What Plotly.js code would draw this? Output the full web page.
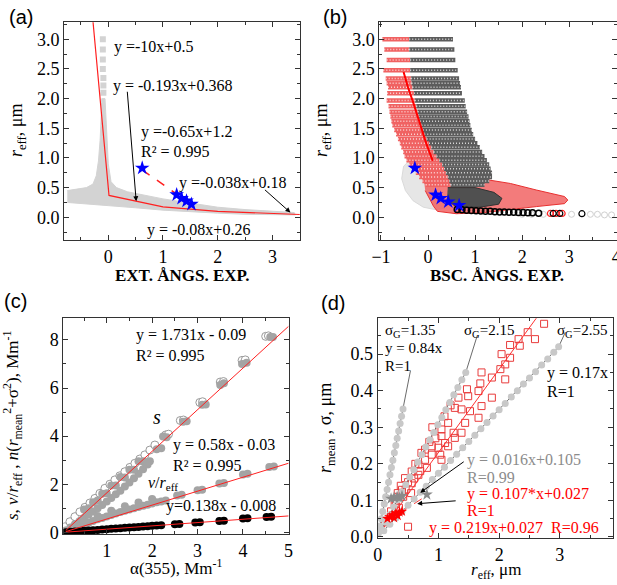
<!DOCTYPE html>
<html>
<head>
<meta charset="utf-8">
<script src="https://cdn.plot.ly/plotly-3.0.1.min.js"></script>
<style>html,body{margin:0;padding:0;background:#fff}#chart{width:617px;height:585px}</style>
</head>
<body>
<div id="chart"></div>
<script>
// ---------- Panel (a) data ----------
const aCloudX = [-0.75,-0.6,-0.4,-0.28,-0.22,-0.18,-0.15,-0.13,-0.12,-0.06,-0.04,-0.02,0.0,0.05,0.15,0.35,0.6,1.0,1.5,2.0,2.5,3.0,3.4,3.42,3.0,2.5,2.0,1.5,1.0,0.5,0.0,-0.4,-0.75];
const aCloudY = [0.45,0.47,0.5,0.56,0.7,0.95,1.3,1.7,2.0,2.0,1.7,1.2,0.9,0.6,0.5,0.43,0.38,0.31,0.24,0.17,0.13,0.1,0.08,0.04,0.04,0.05,0.07,0.09,0.12,0.16,0.2,0.22,0.25];
const aColX = [-0.1,-0.1,-0.1,-0.1,-0.09,-0.09,-0.09];
const aColY = [3.0,2.83,2.66,2.5,2.35,2.22,2.1];
const aFitX = [-0.28,0.013,1,2,3.5];
const aFitY = [3.3,0.368,0.175,0.10,0.047];
const aStarX = [0.62,1.25,1.34,1.43,1.52];
const aStarY = [0.83,0.38,0.32,0.275,0.22];
const aDashX = [0.62,1.22];
const aDashY = [0.80,0.41];

// ---------- Panel (b) data ----------
const bRowY   = [3.0,2.83,2.65,2.48,2.34,2.26,2.19,2.09,1.97,1.87,1.78,1.70,1.62,1.55,1.47,1.40,1.32,1.25,1.18,1.10,1.03,0.96,0.89,0.82,0.75,0.68,0.61,0.55];
const bRowX0  = [-0.97,-0.93,-0.88,-0.95,-0.9,-0.88,-0.85,-0.87,-0.88,-0.84,-0.82,-0.8,-0.78,-0.76,-0.72,-0.68,-0.64,-0.6,-0.57,-0.53,-0.5,-0.46,-0.4,-0.34,-0.26,-0.19,-0.12,-0.05];
const bRowSplit = [-0.4,-0.4,-0.38,-0.38,-0.36,-0.35,-0.33,-0.3,-0.28,-0.25,-0.22,-0.2,-0.17,-0.14,-0.11,-0.08,-0.03,0.02,0.07,0.12,0.18,0.24,0.3,0.34,0.38,0.42,0.45,0.48];
const bRowX1  = [0.53,0.56,0.58,0.63,0.66,0.68,0.7,0.72,0.78,0.8,0.83,0.86,0.88,0.9,0.93,0.96,1.0,1.05,1.1,1.15,1.2,1.25,1.3,1.33,1.36,1.36,1.3,1.2];
const bGrayX = [-0.38,-0.52,-0.56,-0.48,-0.32,-0.1,0.15,0.35,0.3,0.12,-0.05,-0.22];
const bGrayY = [0.97,0.86,0.65,0.45,0.28,0.17,0.13,0.15,0.3,0.5,0.7,0.92];
const bRedLowX = [-0.08,0.5,1.2,1.75,2.3,2.9,2.97,2.9,2.3,1.8,1.2,0.6,0.2,0.12,0.02,-0.06];
const bRedLowY = [0.58,0.6,0.64,0.57,0.46,0.35,0.29,0.23,0.18,0.13,0.08,0.06,0.1,0.18,0.32,0.45];
const bBlackBandX = [0.42,1.0,1.4,1.57,1.5,1.1,0.6,0.4];
const bBlackBandY = [0.5,0.5,0.42,0.32,0.22,0.17,0.17,0.3];
const bStreakX = [-0.52,-0.43,-0.3,-0.18,-0.04,0.1];
const bStreakY = [2.45,2.2,1.9,1.6,1.25,0.95];
const bBottomX = [0.62,0.72,0.82,0.92,1.02,1.12,1.22,1.32,1.42,1.52,1.62,1.72,1.82,1.92,2.02,2.12,2.22,2.35];
const bBottomY = [0.13,0.125,0.12,0.115,0.11,0.105,0.1,0.1,0.095,0.09,0.09,0.085,0.085,0.08,0.08,0.075,0.075,0.07];
const bTailRedX = [2.6,2.72,2.85];
const bTailRedY = [0.065,0.065,0.065];
const bTailBlackX = [2.66,2.8,3.27];
const bTailBlackY = [0.065,0.065,0.06];
const bTailGrayX = [2.0,2.2,2.45,3.05,3.45,3.6,3.75,3.9];
const bTailGrayY = [0.05,0.05,0.05,0.05,0.05,0.05,0.04,0.04];
const bStarX = [-0.28,0.16,0.27,0.43,0.66];
const bStarY = [0.83,0.376,0.32,0.26,0.2];

// ---------- Panel (c) data ----------
const cSOpenX = [0.08,0.19,0.3,0.41,0.52,0.63,0.74,0.85,0.96,1.07,1.18,1.29,1.4,1.51,1.62,1.73,1.84,1.95,2.06,2.3,2.36,2.62,2.69,3.05,3.11,3.5,3.57,3.98,4.05,4.5,4.56];
const cSOpenY = [0.23,0.44,0.65,0.85,1.04,1.22,1.41,1.62,1.83,2.0,2.18,2.35,2.52,2.7,2.87,3.05,3.22,3.42,3.63,4.05,4.08,4.65,4.67,5.4,5.43,6.25,6.27,7.15,7.17,8.15,8.17];
const cSGrayX = [0.1,0.2,0.3,0.4,0.5,0.6,0.7,0.8,0.9,1.0,1.1,1.2,1.3,1.4,1.5,1.6,1.7,1.8,1.9,0.5,0.7,0.9,1.1,1.3,1.5,1.7,0.6,0.8,1.0,1.2,1.4,1.6,1.8,1.85,1.95,2.1,2.2,2.24,2.32,2.68,2.76,3.1,3.18,3.5,3.58,3.98,4.08,4.6,4.66];
const cSGrayY = [0.08,0.2,0.33,0.46,0.6,0.73,0.87,1.0,1.14,1.28,1.43,1.58,1.73,1.9,2.07,2.25,2.43,2.62,2.82,0.95,1.25,1.6,1.95,2.3,2.6,2.95,1.0,1.32,1.62,1.95,2.28,2.6,2.95,2.88,2.95,3.45,3.5,3.98,3.95,4.6,4.62,5.3,5.32,6.13,6.2,7.0,7.05,8.12,8.12];
const cVX = [0.1,0.2,0.3,0.4,0.5,0.6,0.7,0.8,0.9,1.0,1.1,1.2,1.3,1.4,1.5,1.6,1.7,1.8,1.9,2.0,2.1,2.2,2.3,0.5,0.8,1.1,1.4,1.7,2.0,2.55,2.65,3.0,3.1,3.48,3.58,4.0,4.1,4.58,4.68];
const cVY = [0.06,0.13,0.2,0.26,0.33,0.4,0.47,0.54,0.6,0.66,0.72,0.78,0.84,0.9,0.95,1.0,1.05,1.1,1.15,1.2,1.25,1.28,1.32,0.42,0.68,0.9,1.08,1.24,1.38,1.53,1.56,1.75,1.77,2.03,2.05,2.4,2.43,2.72,2.74];
const cNX = [0.1,0.2,0.3,0.4,0.5,0.6,0.7,0.8,0.9,1.0,1.1,1.2,1.3,1.4,1.5,1.6,1.7,1.8,1.9,2.0,2.1,2.2,2.5,2.6,2.95,3.05,3.48,3.58,4.0,4.1,4.52,4.62];
const cNY = [0.006,0.02,0.03,0.047,0.06,0.075,0.09,0.1,0.115,0.13,0.143,0.157,0.17,0.185,0.2,0.21,0.225,0.24,0.25,0.27,0.28,0.29,0.34,0.35,0.41,0.42,0.47,0.48,0.57,0.58,0.64,0.65];
const cFitX = [0.1,5.0];
const cFitS = [0.08,8.56];
const cFitV = [0.03,2.87];
const cFitN = [0.006,0.68];

// ---------- Panel (d) data ----------
const dG135X = [0.012,0.036,0.06,0.083,0.107,0.131,0.155,0.179,0.202,0.226,0.25,0.274,0.298,0.321,0.345,0.369,0.393,0.417];
const dG135Y = [0.01,0.03,0.05,0.07,0.09,0.11,0.13,0.15,0.17,0.19,0.21,0.23,0.25,0.27,0.29,0.31,0.33,0.35];
const dG215X = [0.066,0.132,0.198,0.264,0.33,0.396,0.462,0.528,0.594,0.66,0.726,0.792,0.858,0.924,0.99,1.056,1.122,1.188,1.254,1.32,1.386,1.45];
const dG215Y = [0.02,0.041,0.061,0.082,0.102,0.123,0.143,0.164,0.184,0.205,0.225,0.246,0.266,0.286,0.307,0.327,0.348,0.368,0.389,0.409,0.43,0.45];
const dG255X = [0.1,0.2,0.3,0.4,0.5,0.6,0.7,0.8,0.9,1.0,1.1,1.2,1.3,1.4,1.5,1.6,1.7,1.8,1.9,2.0,2.1,2.2,2.3,2.4,2.5,2.6,2.7,2.8,2.9,2.98];
const dG255Y = [0.017,0.035,0.052,0.07,0.087,0.104,0.122,0.139,0.157,0.174,0.191,0.209,0.226,0.244,0.261,0.278,0.296,0.313,0.331,0.348,0.365,0.383,0.4,0.418,0.435,0.452,0.47,0.487,0.505,0.52];
const dLead135X = [0,0.417,0.54];
const dLead135Y = [0,0.35,0.455];
const dLead215X = [0,1.45,1.64];
const dLead215Y = [0,0.45,0.551];
const dLead255X = [0,2.98,3.09];
const dLead255Y = [0,0.52,0.56];
const dSqX = [2.74,2.47,2.32,2.59,2.18,2.34,2.04,2.18,2.1,2.02,1.71,1.88,2.1,1.69,1.47,1.66,1.49,1.33,1.88,1.71,1.27,1.38,1.52,1.66,1.44,1.16,1.05,1.25,1.38,1.05,1.27,1.11,0.89,1.0,1.16,0.78,0.89,1.03,1.05,0.78,0.67,0.81,0.56,0.67,0.45,0.56,0.4,0.34,0.28,0.5,0.12,0.18,0.22,0.26,0.3,0.35,0.33,0.38,0.42,0.46,0.5,0.55,0.6,0.62,0.7,0.72,0.85,0.9,0.95,1.1,1.2];
const dSqY = [0.583,0.56,0.541,0.541,0.525,0.523,0.5,0.49,0.472,0.459,0.45,0.436,0.431,0.42,0.404,0.399,0.385,0.381,0.381,0.358,0.353,0.349,0.344,0.326,0.312,0.312,0.294,0.285,0.285,0.276,0.271,0.257,0.248,0.244,0.248,0.239,0.225,0.225,0.211,0.211,0.198,0.189,0.179,0.17,0.161,0.147,0.129,0.11,0.092,0.028,0.04,0.05,0.07,0.06,0.09,0.08,0.12,0.14,0.11,0.13,0.15,0.12,0.16,0.2,0.18,0.23,0.26,0.3,0.27,0.33,0.36];
const dRedFitX = [0.03,2.65];
const dRedFitY = [0.01,0.607];
const dRedDashX = [0.1,0.75];
const dRedDashY = [0.038,0.107];
const dRedStarX = [0.16,0.2,0.24,0.27,0.3,0.33,0.36,0.4];
const dRedStarY = [0.05,0.055,0.06,0.052,0.065,0.058,0.068,0.07];
const dGrayStarX = [0.22,0.27,0.32,0.36,0.4,0.81];
const dGrayStarY = [0.105,0.108,0.11,0.107,0.112,0.116];

// ---------- helpers ----------
const SERIF = 'Liberation Serif';
const W = 617, H = 585;
function segs(x0, x1, y) {
  const X = [], Y = [];
  for (let i = 0; i < y.length; i++) { X.push(x0[i], x1[i], null); Y.push(y[i], y[i], null); }
  return {X, Y};
}
function sc(xa, ya, x, y, o) { return Object.assign({type:'scatter', xaxis:xa, yaxis:ya, x, y, hoverinfo:'skip'}, o); }

const traces = [];
// (a)
traces.push(sc('x','y', aCloudX, aCloudY, {mode:'lines', fill:'toself', fillcolor:'#d3d3d3', line:{color:'#d3d3d3', width:1}}));
traces.push(sc('x','y', aColX, aColY, {mode:'markers', marker:{symbol:'square', size:6, color:'#d3d3d3'}}));
traces.push(sc('x','y', aFitX, aFitY, {mode:'lines', line:{color:'#ff2020', width:1.2}}));
traces.push(sc('x','y', aDashX, aDashY, {mode:'lines', line:{color:'#ff2020', width:1.5, dash:'dash'}}));
traces.push(sc('x','y', aStarX, aStarY, {mode:'markers', marker:{symbol:'star', size:11, color:'#0000ff'}}));

// (b)
traces.push(sc('x2','y2', bGrayX, bGrayY, {mode:'lines', fill:'toself', fillcolor:'#e6e6e6', line:{color:'#dadada', width:1}}));
traces.push(sc('x2','y2', bRedLowX, bRedLowY, {mode:'lines', fill:'toself', fillcolor:'rgba(240,90,90,0.8)', line:{color:'#e83030', width:1}}));
const rr = segs(bRowX0, bRowSplit, bRowY);
traces.push(sc('x2','y2', rr.X, rr.Y, {mode:'lines', connectgaps:false, line:{color:'#f06262', width:4.5}}));
const br = segs(bRowSplit, bRowX1, bRowY);
traces.push(sc('x2','y2', br.X, br.Y, {mode:'lines', connectgaps:false, line:{color:'#5c5c5c', width:4.5}}));
traces.push(sc('x2','y2', rr.X, rr.Y, {mode:'lines', connectgaps:false, line:{color:'rgba(255,255,255,0.75)', width:1.5, dash:'1px,2px'}}));
traces.push(sc('x2','y2', br.X, br.Y, {mode:'lines', connectgaps:false, line:{color:'rgba(255,255,255,0.75)', width:1.5, dash:'1px,2px'}}));
traces.push(sc('x2','y2', bStreakX, bStreakY, {mode:'lines', line:{color:'#ff0000', width:2}}));
traces.push(sc('x2','y2', bBlackBandX, bBlackBandY, {mode:'lines', fill:'toself', fillcolor:'#505050', line:{color:'#333', width:1}}));
traces.push(sc('x2','y2', bTailGrayX, bTailGrayY, {mode:'markers', marker:{symbol:'circle-open', size:6, color:'#cfcfcf', line:{width:1}}}));
traces.push(sc('x2','y2', bBottomX, bBottomY, {mode:'markers', marker:{symbol:'circle-open', size:6, color:'#000', line:{width:1.5}}}));
traces.push(sc('x2','y2', bTailRedX, bTailRedY, {mode:'markers', marker:{symbol:'circle-open', size:6, color:'#ff2020', line:{width:1.2}}}));
traces.push(sc('x2','y2', bTailBlackX, bTailBlackY, {mode:'markers', marker:{symbol:'circle-open', size:6, color:'#000', line:{width:1.2}}}));
traces.push(sc('x2','y2', bStarX, bStarY, {mode:'markers', marker:{symbol:'star', size:11, color:'#0000ff'}}));

// (c)
traces.push(sc('x3','y3', cSOpenX, cSOpenY, {mode:'markers', marker:{symbol:'circle', size:8, color:'#ffffff', line:{color:'#9a9a9a', width:1}}}));
traces.push(sc('x3','y3', cSGrayX, cSGrayY, {mode:'markers', marker:{symbol:'circle', size:8, color:'#a4a4a4'}}));
traces.push(sc('x3','y3', cVX, cVY, {mode:'markers', marker:{symbol:'circle', size:8, color:'#a4a4a4'}}));
traces.push(sc('x3','y3', cNX, cNY, {mode:'markers', marker:{symbol:'circle', size:8, color:'#000000'}}));
traces.push(sc('x3','y3', cFitX, cFitS, {mode:'lines', line:{color:'#ff2020', width:1}}));
traces.push(sc('x3','y3', cFitX, cFitV, {mode:'lines', line:{color:'#ff2020', width:1}}));
traces.push(sc('x3','y3', cFitX, cFitN, {mode:'lines', line:{color:'#ff2020', width:1}}));

// (d)
traces.push(sc('x4','y4', dSqX, dSqY, {mode:'markers', marker:{symbol:'square-open', size:7, color:'#e83c3c', line:{width:1}}}));
traces.push(sc('x4','y4', dRedFitX, dRedFitY, {mode:'lines', line:{color:'#ff3030', width:1}}));
traces.push(sc('x4','y4', dRedDashX, dRedDashY, {mode:'lines', line:{color:'#ff3030', width:1, dash:'dash'}}));
[[dLead135X,dLead135Y],[dLead215X,dLead215Y],[dLead255X,dLead255Y]].forEach(p =>
  traces.push(sc('x4','y4', p[0], p[1], {mode:'lines', line:{color:'#444', width:0.8}})));
[[dG135X,dG135Y],[dG215X,dG215Y],[dG255X,dG255Y]].forEach(p =>
  traces.push(sc('x4','y4', p[0], p[1], {mode:'markers', marker:{symbol:'circle', size:7, color:'#c8c8c8'}})));
traces.push(sc('x4','y4', dGrayStarX, dGrayStarY, {mode:'markers', marker:{symbol:'star', size:9, color:'#8a8a8a'}}));
traces.push(sc('x4','y4', dRedStarX, dRedStarY, {mode:'markers', marker:{symbol:'star', size:8, color:'#ff0000'}}));

// ---------- axes ----------
function axis(domain, range, dtick, minor, anchor, extra) {
  return Object.assign({
    domain, range, dtick, tick0:0, anchor, automargin:false,
    ticks:'inside', ticklen:5, tickwidth:1, tickcolor:'#333',
    mirror:'ticks', showline:true, linecolor:'#333', linewidth:1,
    showgrid:false, zeroline:false,
    tickfont:{family:SERIF, size:18, color:'#000'},
    minor:{dtick:minor, tick0:0, ticks:'inside', ticklen:3, tickcolor:'#333', showgrid:false},
  }, extra);
}
const yAB = [1-240/H, 1-22.3/H];
const layout = {
  width:W, height:H, margin:{l:0,r:0,t:0,b:0}, showlegend:false,
  font:{family:SERIF, size:16, color:'#000'},
  paper_bgcolor:'#fff', plot_bgcolor:'#fff',
  xaxis: axis([64/W, 300/W], [-0.81, 3.505], 1, 0.5, 'y', {}),
  yaxis: axis(yAB, [-0.383, 3.287], 0.5, 0.25, 'x', {tickformat:'.1f'}),
  xaxis2: axis([379.3/W, 616.5/W], [-1.036, 4.005], 1, 0.5, 'y2', {ticklabeloverflow:'allow'}),
  yaxis2: axis(yAB, [-0.383, 3.287], 0.5, 0.25, 'x2', {tickformat:'.1f'}),
  xaxis3: axis([63.3/W, 289.3/W], [0.044, 5.02], 1, 0.5, 'y3', {}),
  yaxis3: axis([1-534.3/H, 1-318.3/H], [-0.083, 8.9], 2, 1, 'x3', {}),
  xaxis4: axis([377.7/W, 613.3/W], [0, 3.88], 1, 0.5, 'y4', {}),
  yaxis4: axis([1-538.3/H, 1-318.3/H], [-0.0036, 0.598], 0.1, 0.05, 'x4', {tickformat:'.1f'}),
  annotations: []
};
function T(px, py, text, o) {
  layout.annotations.push(Object.assign({xref:'paper', yref:'paper', x:px/W, y:1-py/H, xanchor:'left', yanchor:'middle',
    showarrow:false, text, font:{family:SERIF, size:16, color:'#000'}}, o || {}));
}
function A(xr, yr, x, y, ax, ay) {
  layout.annotations.push({xref:xr, yref:yr, x, y, ax, ay, axref:'pixel', ayref:'pixel', text:'', showarrow:true,
    arrowhead:2, arrowsize:1, arrowwidth:1, arrowcolor:'#000'});
}
const SANS = {family:'Liberation Sans', size:20, color:'#000'};
const TITLE = {family:SERIF, size:18, color:'#000'};
const BOLDT = {family:SERIF, size:17, color:'#000', weight:'bold'};
// axis titles placed at their reference positions
T(182,275,'<b>EXT. ÅNGS. EXP.</b>',{xanchor:'center', font:BOLDT});
T(497,275,'<b>BSC. ÅNGS. EXP.</b>',{xanchor:'center', font:BOLDT});
T(17,131,'<i>r</i><sub>eff</sub>, μm',{xanchor:'center', textangle:-90, font:TITLE});
T(322,131,'<i>r</i><sub>eff</sub>, μm',{xanchor:'center', textangle:-90, font:TITLE});
T(12,426,'<i>s</i>, <i>v</i>/<i>r</i><sub>eff</sub> , <i>n</i>(<i>r</i><sub>mean</sub><sup>2</sup>+σ<sup>2</sup>), Mm<sup>-1</sup>',{xanchor:'center', textangle:-90, font:{family:SERIF, size:17, color:'#000'}});
T(176,567,'α(355), Mm<sup>-1</sup>',{xanchor:'center', font:{family:SERIF, size:17, color:'#000'}});
T(326,428,'<i>r</i><sub>mean</sub> , σ, μm',{xanchor:'center', textangle:-90, font:TITLE});
T(496,584,'<i>r</i><sub>eff</sub>, μm',{xanchor:'center', yanchor:'bottom', font:{family:SERIF, size:17, color:'#000'}});
// panel labels
T(21,17,'(a)',{xanchor:'center', font:SANS});
T(335,17,'(b)',{xanchor:'center', font:SANS});
T(15,301,'(c)',{xanchor:'center', font:SANS});
T(333,303,'(d)',{xanchor:'center', font:SANS});
// (a)
T(112,47,'y =-10x+0.5');
T(111,86,'y = -0.193x+0.368');
T(139,132,'y =-0.65x+1.2');
T(139,152,'R² = 0.995');
T(177,183,'y =-0.038x+0.18');
T(145,230,'y = -0.08x+0.26');
A('x','y', 0.51, 0.27, -9, -111);
A('x','y', 3.33, 0.08, -27, -24);
// (c)
T(134,335,'y = 1.731x - 0.09');
T(134,356,'R² = 0.995');
T(151,417,'<i>s</i>',{font:{family:SERIF, size:20, color:'#000'}});
T(171,445,'y = 0.58x - 0.03');
T(171,465,'R² = 0.995');
T(146,483,'<i>v</i>/<i>r</i><sub>eff</sub>');
T(164,506,'y=0.138x - 0.008');
// (d)
T(383,331,'σ<sub>G</sub>=1.35',{font:{family:SERIF, size:15, color:'#000'}});
T(383,348,'y = 0.84x',{font:{family:SERIF, size:15, color:'#000'}});
T(383,366,'R=1',{font:{family:SERIF, size:15, color:'#000'}});
T(462,331,'σ<sub>G</sub>=2.15',{font:{family:SERIF, size:15, color:'#000'}});
T(555,331,'σ<sub>G</sub>=2.55',{font:{family:SERIF, size:15, color:'#000'}});
T(545,373,'y = 0.17x');
T(545,392,'R=1');
T(465,460,'y = 0.016x+0.105',{font:{family:SERIF, size:16, color:'#8c8c8c'}});
T(465,477,'R=0.99',{font:{family:SERIF, size:16, color:'#8c8c8c'}});
T(465,494,'y = 0.107*x+0.027',{font:{family:SERIF, size:16, color:'#ff0000'}});
T(465,510,'R=1',{font:{family:SERIF, size:16, color:'#ff0000'}});
T(427,528,'y = 0.219x+0.027  R=0.96',{font:{family:SERIF, size:16, color:'#ff0000'}});
A('x4','y4', 0.70, 0.121, 45, -32);
A('x4','y4', 0.65, 0.091, 40, -3);

Plotly.newPlot('chart', traces, layout, {displayModeBar:false, staticPlot:true});
</script>
</body>
</html>
